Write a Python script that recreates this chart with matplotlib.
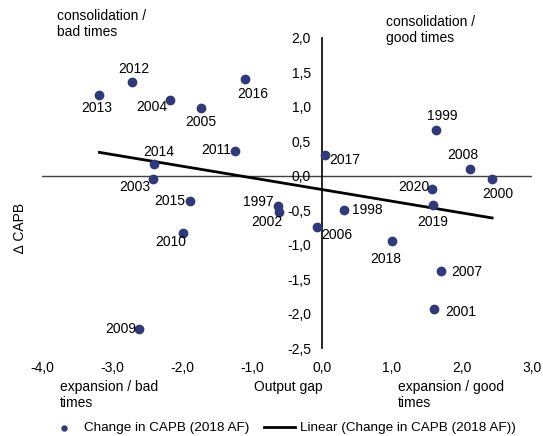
import numpy as np
import matplotlib
matplotlib.use("Agg")
import matplotlib.pyplot as plt
from matplotlib.ticker import FuncFormatter

plt.rcParams['font.family'] = ['Liberation Sans', 'DejaVu Sans']
plt.rcParams['font.size'] = 10

# data
years = ['2013', '2012', '2004', '2005', '2016', '2011', '2014', '2003', '2015',
         '1997', '2002', '2010', '2009', '2017', '1999', '2008', '2000', '2020',
         '1998', '2019', '2006', '2018', '2007', '2001']
output_gap = [-3.18, -2.71, -2.17, -1.73, -1.10, -1.24, -2.40, -2.42, -1.88,
              -0.63, -0.61, -1.99, -2.61, 0.04, 1.63, 2.12, 2.43, 1.57,
              0.31, 1.58, -0.07, 1.00, 1.70, 1.60]
capb_change = [1.17, 1.36, 1.10, 0.99, 1.40, 0.36, 0.17, -0.05, -0.37,
               -0.44, -0.53, -0.83, -2.22, 0.30, 0.67, 0.10, -0.05, -0.19,
               -0.50, -0.42, -0.74, -0.94, -1.38, -1.93]

# label offsets in pixels (dx, dy), screen coords
label_offsets = {
    '2013': (-3, 13), '2012': (2, -13), '2004': (-18, 7), '2005': (0, 14),
    '2016': (8, 15), '2011': (-19, -1), '2014': (5, -12), '2003': (-18, 8),
    '2015': (-21, 0), '1997': (-20, -4), '2002': (-12, 10), '2010': (-12, 9),
    '2009': (-19, 0), '2017': (20, 5), '1999': (6, -14), '2008': (-8, -14),
    '2000': (6, 15), '2020': (-18, -2), '1998': (24, 0), '2019': (0, 17),
    '2006': (20, 8), '2018': (-6, 18), '2007': (26, 1), '2001': (27, 3),
}

W, H = 543, 436
fig = plt.figure(figsize=(W / 100, H / 100), dpi=100)
ax = fig.add_axes([42 / W, 1 - 348 / H, (532 - 42) / W, (348 - 38) / H])

dot_color = '#2E3A7B'
ax.scatter(output_gap, capb_change, s=36, color=dot_color, zorder=3,
           label='Change in CAPB (2018 AF)')

# linear trend
x = np.array(output_gap)
y = np.array(capb_change)
slope, intercept = np.polyfit(x, y, 1)
xs = np.array([x.min(), x.max()])
ax.plot(xs, slope * xs + intercept, color='black', lw=2, zorder=2,
        label='Linear (Change in CAPB (2018 AF))')

for yr, gx, gy in zip(years, output_gap, capb_change):
    dx, dy = label_offsets[yr]
    ax.annotate(yr, (gx, gy), xytext=(dx, -dy), textcoords='offset pixels',
                ha='center', va='center', fontsize=10, zorder=4)

ax.set_xlim(-4, 3)
ax.set_ylim(-2.5, 2.0)
ax.set_xticks(np.arange(-4, 3.1, 1))
ax.set_yticks(np.arange(-2.5, 2.1, 0.5))
fmt = FuncFormatter(lambda v, p: f"{v:.1f}".replace('.', ','))
ax.xaxis.set_major_formatter(fmt)
ax.yaxis.set_major_formatter(fmt)

for s in ['top', 'right', 'bottom']:
    ax.spines[s].set_visible(False)
ax.spines['left'].set_position(('data', 0))
ax.spines['left'].set_color('black')
ax.spines['left'].set_linewidth(1.2)
ax.axhline(0, color='#404040', lw=1, zorder=1)
ax.tick_params(axis='both', length=0)
ax.tick_params(axis='x', pad=9.5)
ax.tick_params(axis='y', pad=8)

def ftext(px, py, s, **kw):
    fig.text(px / W, 1 - py / H, s, fontsize=10, **kw)

ftext(57, 24, 'consolidation /\nbad times', va='center', ha='left', linespacing=1.2)
ftext(386, 30, 'consolidation /\ngood times', va='center', ha='left', linespacing=1.2)
ftext(60, 395, 'expansion / bad\ntimes', va='center', ha='left', linespacing=1.2)
ftext(254, 387, 'Output gap', va='center', ha='left')
ftext(398, 395, 'expansion / good\ntimes', va='center', ha='left', linespacing=1.2)
ftext(20, 228, '\u2206 CAPB', va='center', ha='center', rotation=90)

fig.legend(loc='center', bbox_to_anchor=(282 / W, 1 - 428 / H), ncol=2,
           frameon=False, prop={'size': 9.7}, markerscale=0.6, handlelength=2.3,
           columnspacing=1.1, handletextpad=0.35)

fig.savefig('out.png', dpi=100)
